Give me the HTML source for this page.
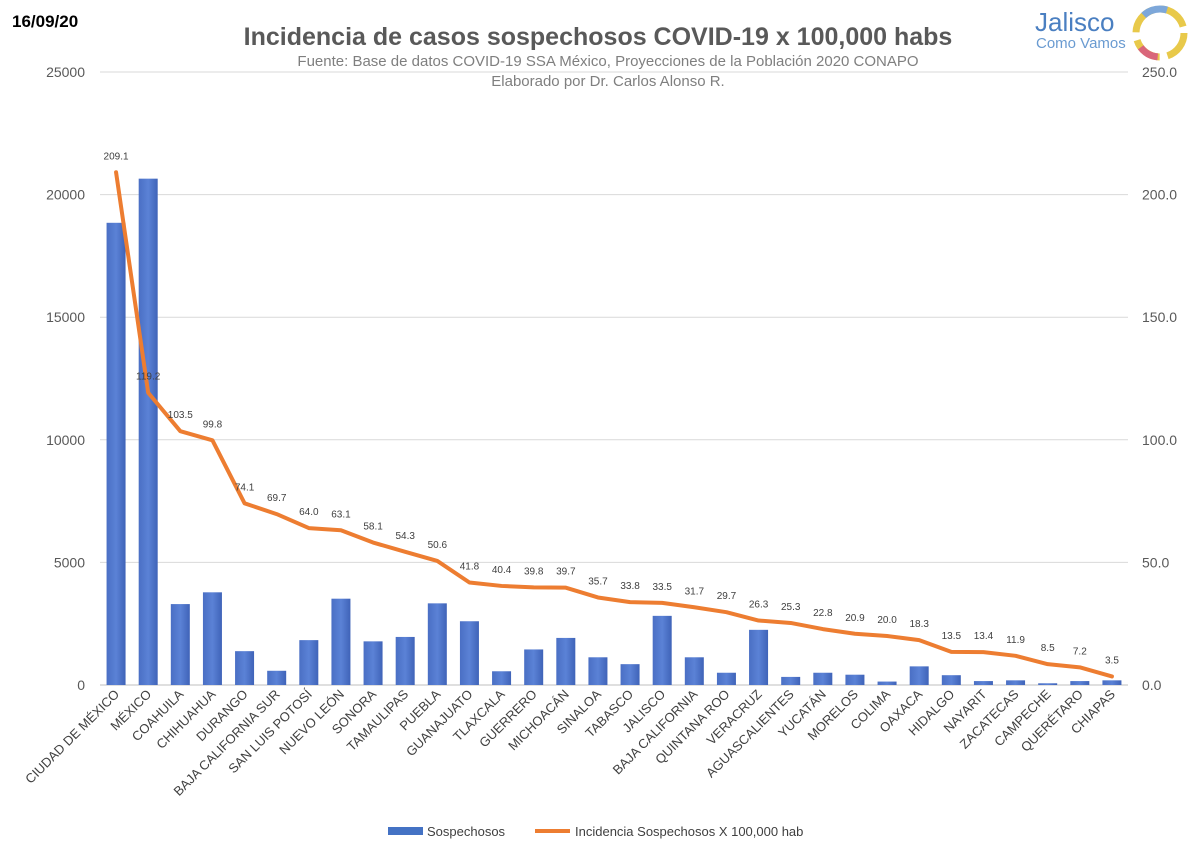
<!DOCTYPE html>
<html><head><meta charset="utf-8"><style>
body{margin:0;background:#fff;font-family:"Liberation Sans",sans-serif;}
svg text{font-family:"Liberation Sans",sans-serif;}
</style></head><body>
<svg id="chart" width="1200" height="858" viewBox="0 0 1200 858" xmlns="http://www.w3.org/2000/svg">
<defs>
<linearGradient id="bg" x1="0" x2="1" y1="0" y2="0">
<stop offset="0" stop-color="#4a6fc4"/><stop offset="0.5" stop-color="#5b82d6"/><stop offset="1" stop-color="#3f63b8"/>
</linearGradient>
</defs>
<rect x="0" y="0" width="1200" height="858" fill="#fff"/>
<text x="12" y="27" font-size="17" font-weight="bold" fill="#000">16/09/20</text>
<text x="598" y="45" text-anchor="middle" font-size="25" font-weight="bold" fill="#595959">Incidencia de casos sospechosos COVID-19 x 100,000 habs</text>
<text x="608" y="66" text-anchor="middle" font-size="15" fill="#7f7f7f">Fuente: Base de datos COVID-19 SSA México, Proyecciones de la Población 2020 CONAPO</text>
<text x="608" y="86" text-anchor="middle" font-size="15" fill="#7f7f7f">Elaborado por Dr. Carlos Alonso R.</text>
<g>
<text x="1035" y="31" font-size="26" fill="#4a7fc1">Jalisco</text>
<text x="1036" y="48" font-size="15" fill="#6a9bd1">Como Vamos</text>
<circle cx="1160" cy="33" r="24" fill="none" stroke="#e8c94a" stroke-width="7" stroke-dasharray="30 8"/>
<circle cx="1160" cy="33" r="24" fill="none" stroke="#d9667a" stroke-width="7" stroke-dasharray="20 130" stroke-dashoffset="-40"/>
<circle cx="1160" cy="33" r="24" fill="none" stroke="#7da7d9" stroke-width="7" stroke-dasharray="25 130" stroke-dashoffset="-95"/>
</g>
<g id="grid"></g><g id="bars"></g><g id="line"></g><g id="labels"></g><g id="axes"></g>
<g>
<rect x="388" y="827" width="35" height="8" fill="#4472c4"/>
<text x="427" y="836" font-size="13" fill="#404040">Sospechosos</text>
<line x1="535" y1="831" x2="570" y2="831" stroke="#ed7d31" stroke-width="4"/>
<text x="575" y="836" font-size="13" fill="#404040">Incidencia Sospechosos X 100,000 hab</text>
</g>
</svg>
<script>
const categories=["CIUDAD DE MÉXICO","MÉXICO","COAHUILA","CHIHUAHUA","DURANGO","BAJA CALIFORNIA SUR","SAN LUIS POTOSÍ","NUEVO LEÓN","SONORA","TAMAULIPAS","PUEBLA","GUANAJUATO","TLAXCALA","GUERRERO","MICHOACÁN","SINALOA","TABASCO","JALISCO","BAJA CALIFORNIA","QUINTANA ROO","VERACRUZ","AGUASCALIENTES","YUCATÁN","MORELOS","COLIMA","OAXACA","HIDALGO","NAYARIT","ZACATECAS","CAMPECHE","QUERÉTARO","CHIAPAS"];
const sospechosos=[18850,20650,3300,3780,1380,580,1830,3520,1780,1960,3330,2600,560,1450,1920,1130,850,2820,1130,500,2250,330,500,420,140,760,400,160,190,70,160,190];
const incidencia=[209.1,119.2,103.5,99.8,74.1,69.7,64.0,63.1,58.1,54.3,50.6,41.8,40.4,39.8,39.7,35.7,33.8,33.5,31.7,29.7,26.3,25.3,22.8,20.9,20.0,18.3,13.5,13.4,11.9,8.5,7.2,3.5];
const leftTicks=[0,5000,10000,15000,20000,25000];
const rightTicks=["0.0","50.0","100.0","150.0","200.0","250.0"];
const NS="http://www.w3.org/2000/svg";
const X0=100,X1=1128,Y0=685,Y1=72;
const band=(X1-X0)/categories.length;
const xc=i=>X0+band*(i+0.5);
const yL=v=>Y0-(v/25000)*(Y0-Y1);
const yR=v=>Y0-(v/250)*(Y0-Y1);
function mk(t,a,p){const e=document.createElementNS(NS,t);for(const k in a)e.setAttribute(k,a[k]);p.appendChild(e);return e;}
const grid=document.getElementById('grid'),axes=document.getElementById('axes');
leftTicks.forEach((t,i)=>{
 const gl=mk('line',{x1:X0,x2:X1,y1:yL(t),y2:yL(t),stroke:i==0?'#bfbfbf':'#d9d9d9','stroke-width':1},grid);
 
 
 const lt=mk('text',{x:85,y:yL(t)+5,'text-anchor':'end','font-size':14,fill:'#595959'},axes);lt.textContent=t;
 
 
 const rt=mk('text',{x:1142,y:yL(t)+5,'font-size':14,fill:'#595959'},axes);rt.textContent=rightTicks[i];
 
 
});
const bars=document.getElementById('bars');
sospechosos.forEach((v,i)=>{
 const r=mk('rect',{x:xc(i)-9.5,y:yL(v),width:19,height:Y0-yL(v),fill:'url(#bg)'},bars);
 
 
 const tx=xc(i)+4,ty=Y0+10;
 const ct=mk('text',{x:tx,y:ty,'text-anchor':'end','font-size':13,fill:'#404040',transform:`rotate(-45 ${tx} ${ty})`},axes);
 ct.textContent=categories[i];
 
 
});
const line=document.getElementById('line');
const pts=incidencia.map((v,i)=>xc(i)+','+yR(v)).join(' ');
const pl=mk('polyline',{points:pts,fill:'none',stroke:'#ed7d31','stroke-width':4,'stroke-linejoin':'round','stroke-linecap':'round'},line);


const labels=document.getElementById('labels');
incidencia.forEach((v,i)=>{
 const t=mk('text',{x:xc(i),y:yR(v)-13,'text-anchor':'middle','font-size':10,fill:'#404040'},labels);
 t.textContent=v.toFixed(1);
 
 
});
</script>
</body></html>
